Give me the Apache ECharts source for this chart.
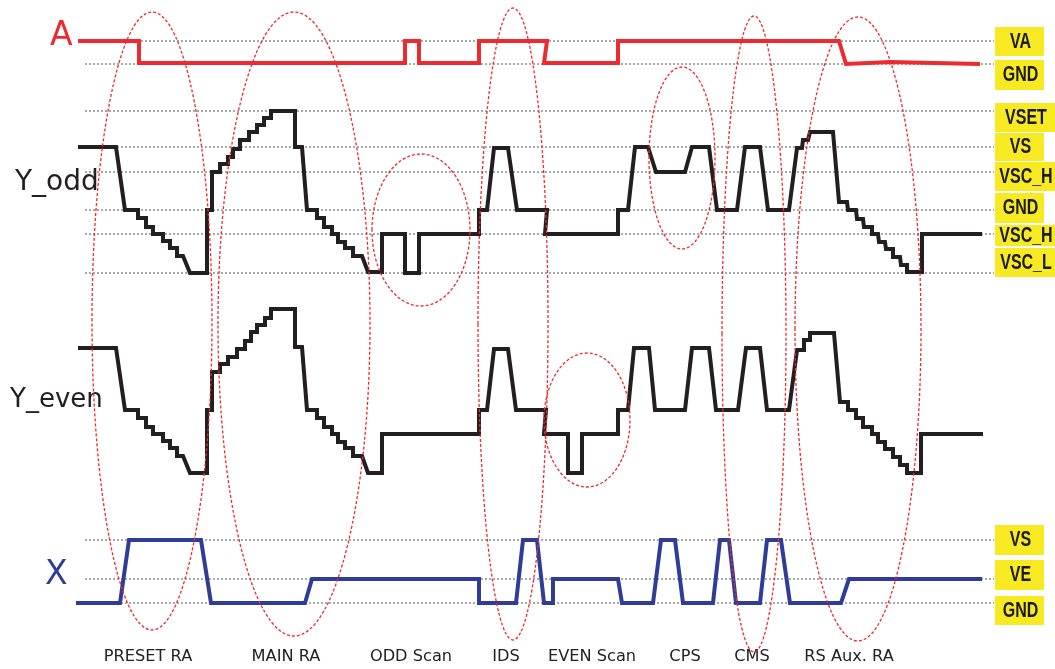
<!DOCTYPE html>
<html>
<head>
<meta charset="utf-8">
<title>Drive waveforms</title>
<script src="https://cdn.jsdelivr.net/npm/echarts@6/dist/echarts.min.js"></script>
<style>
  html, body { margin: 0; padding: 0; background: #fff; }
  #chart { width: 1055px; height: 669px; }
</style>
</head>
<body>
<div id="chart"></div>
<script>
// 파형 데이터 (가로: 시간, 세로: 도면 단위)
const waveA = [[78,41],[139,41],[139,63],[405,63],[405,41],[419,41],[419,63],[479,63],[479,41],[547,41],[544,63],[618,63],[618,41],[839,41],[846,64],[890,62],[980,64]];

const waveYodd = [[78,147],[116,147],[125,210],[138,210],[138,218],[146,218],[146,227],[153,227],[153,234],[163,234],[163,241],[170,241],[170,248],[177,248],[177,256],[183,256],[190,273],[207,273],
  [207,210],[212,210],[212,172],[220,172],[220,164],[228,164],[228,157],[233,157],[233,149],[240,149],[240,140],[249,140],[249,132],[257,132],[257,125],[264,125],[264,118],[271,118],[271,111],[295,111],
  [295,147],[302,147],[307,210],[317,210],[317,218],[324,218],[324,227],[332,227],[332,234],[338,234],[338,242],[345,242],[345,248],[353,248],[353,256],[362,256],[368,272],[382,272],
  [382,234],[405,234],[405,273],[419,273],[419,234],[479,234],[479,210],[487,210],[494,148],[508,148],[517,210],[547,210],[545,234],[618,234],
  [618,210],[628,210],[635,147],[648,147],[656,172],[685,172],[692,147],[709,147],[717,210],[737,210],[745,147],[760,147],[768,210],[789,210],
  [797,148],[802,148],[803,140],[808,140],[810,132],[833,132],[839,202],[847,202],[848,210],[856,210],[857,219],[863,219],[864,227],[872,227],[872,234],[878,234],[879,242],[885,242],[886,249],[893,249],[893,257],[900,257],[901,265],[907,265],[907,272],[922,272],[922,234],[982,234]];

const waveYeven = [[78,348],[116,348],[125,410],[138,410],[138,418],[146,418],[146,427],[153,427],[153,434],[163,434],[163,441],[170,441],[170,448],[177,448],[177,456],[183,456],[190,473],[207,473],
  [207,410],[212,410],[212,372],[220,372],[220,364],[228,364],[228,357],[237,357],[237,349],[245,349],[245,341],[251,341],[251,332],[257,332],[257,325],[265,325],[265,318],[271,318],[271,309],[295,309],
  [295,347],[302,347],[307,410],[317,410],[317,418],[324,418],[324,427],[332,427],[332,434],[338,434],[338,442],[345,442],[345,448],[353,448],[353,456],[362,456],[368,473],[382,473],
  [382,434],[479,434],[479,410],[487,410],[494,349],[508,349],[516,410],[546,410],[544,434],[568,434],[568,473],[582,473],[582,434],[618,434],
  [618,410],[628,410],[634,348],[649,348],[655,410],[685,410],[692,348],[709,348],[716,410],[738,410],[746,348],[760,348],[767,410],[789,410],
  [797,350],[804,350],[804,340],[810,340],[810,333],[834,333],[840,402],[848,402],[848,410],[856,410],[856,418],[863,418],[863,427],[872,427],[872,434],[878,434],[878,442],[885,442],[885,449],[893,449],[893,457],[900,457],[900,465],[907,465],[907,473],[921,473],[921,434],[983,434]];

const waveX = [[76,603],[120,603],[129,540],[201,540],[211,603],[305,603],[312,579],[479,579],[479,603],[516,603],[523,540],[537,540],[544,603],[553,603],[553,579],[618,579],[622,603],
  [653,603],[661,540],[675,540],[683,603],[713,603],[720,540],[729,540],[736,603],[760,603],[767,540],[781,540],[790,603],[841,603],[849,579],[982,579]];

// 기준 전압 점선
const guideA = [41, 64];
const guideYodd = [111, 147, 172, 210, 234, 273];
const guideX = [540, 579, 603];

// 오른쪽 전압 라벨
const tagNames = ['VA','GND','VSET','VS','VSC_H','GND','VSC_H','VSC_L','VS','VE','GND'];

// 구간 이름
const phaseNames = ['PRESET RA','MAIN RA','ODD Scan','IDS','EVEN Scan','CPS','CMS','RS Aux. RA'];
const phaseCenters = [148, 286, 411, 506, 592, 685, 752, 849];

// 구간 타원 (중심, 반지름)
const ellipseCx = [152, 294, 421, 513, 587, 682, 754, 858];
const ellipseCy = [321, 324, 230, 324, 420, 158, 334, 329];
const ellipseRx = [60, 76, 49, 35, 43, 33, 32, 63];
const ellipseRy = [309, 312, 76, 316, 67, 91, 318, 312];

// 라벨 상자 위치
const tagTop    = [27, 60, 103, 133, 162, 193, 225, 248, 525, 560, 596];
const tagBottom = [57, 91, 133, 162, 192, 224, 247, 278, 556, 591, 626];
const tagRight  = [1044, 1044, 1055, 1044, 1055, 1044, 1055, 1055, 1044, 1044, 1044];
const tagLeft = 995;

const RED = '#ec2a30';
const BLUE = '#2f3d98';
const BLACK = '#231f20';
const YELLOW = '#f8ea22';

const guideStart = 85, guideEnd = 994;

var myChart = echarts.init(document.getElementById('chart'));

function guideSeries(levels) {
    return levels.map(function (y) {
        return {
            type: 'line',
            silent: true,
            symbol: 'none',
            z: 1,
            data: [[guideStart, y], [guideEnd, y]],
            lineStyle: { color: '#555', width: 1, type: [2, 2] }
        };
    });
}

function waveSeries(data, color) {
    return {
        type: 'line',
        silent: true,
        symbol: 'none',
        z: 3,
        data: data,
        lineStyle: { color: color, width: 4, join: 'miter' }
    };
}

var ellipseData = ellipseCx.map(function (cx, i) {
    return [cx, ellipseCy[i], ellipseRx[i], ellipseRy[i]];
});
var tagData = tagNames.map(function (n, i) {
    return [tagLeft, tagTop[i], tagRight[i], tagBottom[i]];
});
var phaseData = phaseCenters.map(function (x) { return [x, 657]; });

var option = {
    animation: false,
    grid: { left: 0, right: 0, top: 0, bottom: 0 },
    xAxis: { type: 'value', min: 0, max: 1055, show: false },
    yAxis: { type: 'value', min: 0, max: 669, inverse: true, show: false },
    graphic: [
        { type: 'text', left: 50, top: 20, style: { text: 'A', font: '33px "DejaVu Sans"', fill: RED } },
        { type: 'text', left: 15, top: 169, style: { text: 'Y_odd', font: '28px "DejaVu Sans"', fill: BLACK } },
        { type: 'text', left: 10, top: 387, style: { text: 'Y_even', font: '26px "DejaVu Sans"', fill: BLACK } },
        { type: 'text', left: 45, top: 559, style: { text: 'X', font: '33px "DejaVu Sans"', fill: BLUE } }
    ],
    series: [].concat(
        guideSeries(guideA),
        guideSeries(guideYodd),
        guideSeries(guideX),
        [
            waveSeries(waveA, RED),
            waveSeries(waveYodd, BLACK),
            waveSeries(waveYeven, BLACK),
            waveSeries(waveX, BLUE),
            {
                // 오른쪽 노란 라벨
                type: 'custom',
                silent: true,
                z: 4,
                data: tagData,
                encode: { x: [0, 2], y: [1, 3] },
                renderItem: function (params, api) {
                    var p1 = api.coord([api.value(0), api.value(1)]);
                    var p2 = api.coord([api.value(2), api.value(3)]);
                    return {
                        type: 'group',
                        children: [
                            { type: 'rect', shape: { x: p1[0], y: p1[1], width: p2[0] - p1[0], height: p2[1] - p1[1] - 1 }, style: { fill: YELLOW } },
                            {
                                type: 'text',
                                x: (p1[0] + p2[0]) / 2 + 1,
                                y: (p1[1] + p2[1]) / 2,
                                scaleX: 0.8,
                                scaleY: 1.06,
                                style: { text: tagNames[params.dataIndex], x: 0, y: 0, align: 'center', verticalAlign: 'middle', font: 'bold 20px "Liberation Sans", Arial, sans-serif', fill: '#1a1a1a' }
                            }
                        ]
                    };
                }
            },
            {
                // 구간 이름
                type: 'custom',
                silent: true,
                z: 4,
                data: phaseData,
                renderItem: function (params, api) {
                    var p = api.coord([api.value(0), api.value(1)]);
                    return {
                        type: 'text',
                        x: p[0],
                        y: p[1],
                        scaleX: 1.08,
                        style: { text: phaseNames[params.dataIndex], x: 0, y: 0, align: 'center', verticalAlign: 'middle', font: '15px "DejaVu Sans"', fill: '#222' }
                    };
                }
            },
            {
                // 빨간 점선 타원
                type: 'custom',
                silent: true,
                z: 6,
                data: ellipseData,
                encode: { x: 0, y: 1 },
                renderItem: function (params, api) {
                    var c = api.coord([api.value(0), api.value(1)]);
                    var s = api.size([api.value(2), api.value(3)]);
                    return {
                        type: 'ellipse',
                        shape: { cx: c[0], cy: c[1], rx: Math.abs(s[0]), ry: Math.abs(s[1]) },
                        style: { fill: 'none', stroke: RED, lineWidth: 1.3, lineDash: [3, 2] }
                    };
                }
            }
        ]
    )
};

myChart.setOption(option);
</script>
</body>
</html>
